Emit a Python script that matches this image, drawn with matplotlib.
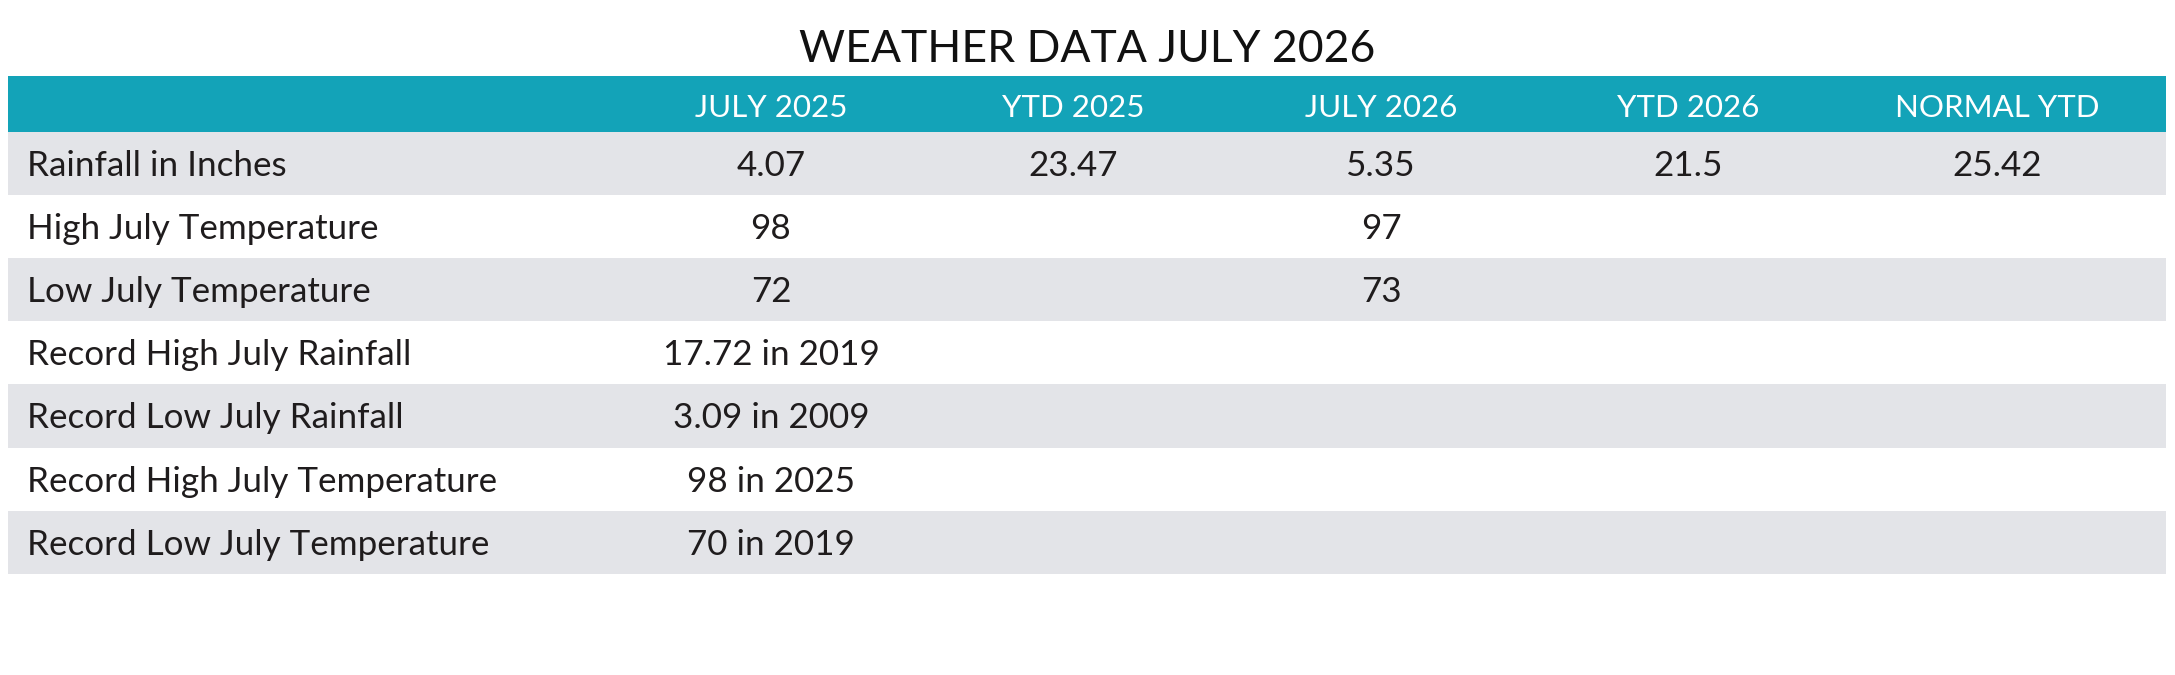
import matplotlib
matplotlib.use("Agg")
import matplotlib.pyplot as plt
from matplotlib.patches import Rectangle

plt.rcParams['font.family'] = ['Lato', 'DejaVu Sans']

title = "WEATHER DATA JULY 2026"
columns = ["JULY 2025", "YTD 2025", "JULY 2026", "YTD 2026", "NORMAL YTD"]
row_labels = [
    "Rainfall in Inches",
    "High July Temperature",
    "Low July Temperature",
    "Record High July Rainfall",
    "Record Low July Rainfall",
    "Record High July Temperature",
    "Record Low July Temperature",
]
july_2025 = ["4.07", "98", "72", "17.72 in 2019", "3.09 in 2009", "98 in 2025", "70 in 2019"]
ytd_2025 = ["23.47", "", "", "", "", "", ""]
july_2026 = ["5.35", "97", "73", "", "", "", ""]
ytd_2026 = ["21.5", "", "", "", "", "", ""]
normal_ytd = ["25.42", "", "", "", "", "", ""]

# layout (pixels)
W, H = 2175, 675
left, right = 8, 2166
header_top, header_h = 76, 56
row_h = 63.1
label_x = 27
col_x = [771, 1073, 1381, 1688, 1997]
teal = "#13A3B8"
gray = "#E3E4E8"
ink = "#1F1C1D"

fig = plt.figure(figsize=(W / 100, H / 100), dpi=100)
ax = fig.add_axes([0, 0, 1, 1])
ax.set_xlim(0, W)
ax.set_ylim(H, 0)
ax.axis("off")

ax.text(W / 2, 62, title, ha="center", va="baseline", fontsize=32, color="#111111")

ax.add_patch(Rectangle((left, header_top), right - left, header_h, color=teal, lw=0))
for x, c in zip(col_x, columns):
    ax.text(x, header_top + 41, c, ha="center", va="baseline", fontsize=22.5, color="white")

data_cols = [july_2025, ytd_2025, july_2026, ytd_2026, normal_ytd]
body_top = header_top + header_h
for i, lab in enumerate(row_labels):
    y0 = body_top + i * row_h
    if i % 2 == 0:
        ax.add_patch(Rectangle((left, y0), right - left, row_h, color=gray, lw=0))
    yb = y0 + row_h / 2 + 12.5
    ax.text(label_x, yb, lab, ha="left", va="baseline", fontsize=25.2, color=ink)
    for x, col in zip(col_x, data_cols):
        if col[i]:
            ax.text(x, yb, col[i], ha="center", va="baseline", fontsize=25.2, color=ink)

fig.savefig("out.png", dpi=100, facecolor="white")
